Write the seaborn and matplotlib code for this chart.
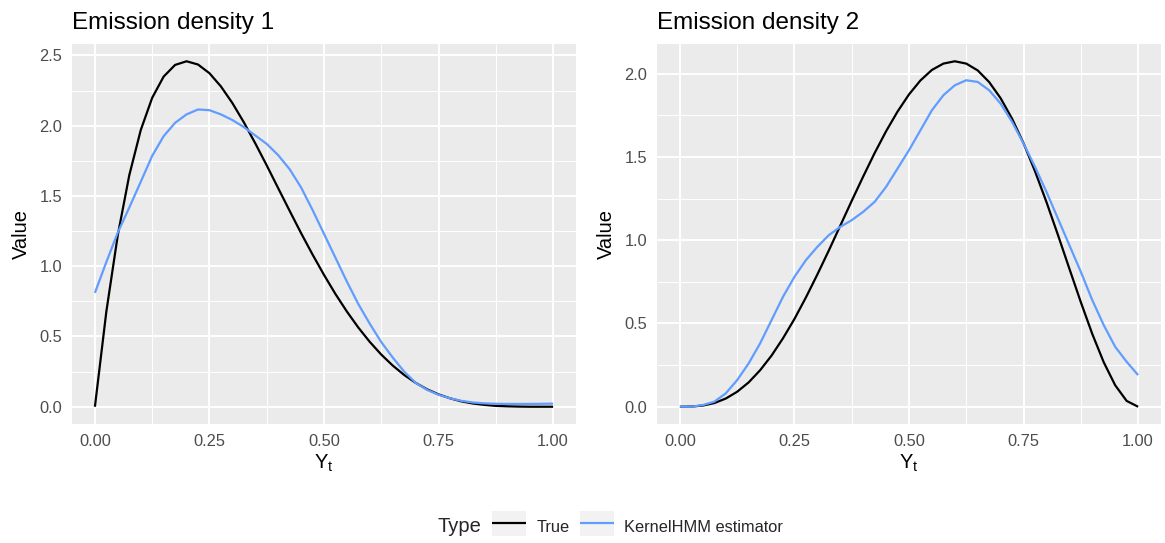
import matplotlib
matplotlib.use("Agg")
import matplotlib.pyplot as plt
import numpy as np
import pandas as pd
import seaborn as sns
from matplotlib.patches import Rectangle
from matplotlib.lines import Line2D
from matplotlib.legend_handler import HandlerLine2D

# ---------------- data ----------------
y_t = [0.000, 0.025, 0.050, 0.075, 0.100, 0.125, 0.150, 0.175, 0.200, 0.225,
       0.250, 0.275, 0.300, 0.325, 0.350, 0.375, 0.400, 0.425, 0.450, 0.475,
       0.500, 0.525, 0.550, 0.575, 0.600, 0.625, 0.650, 0.675, 0.700, 0.725,
       0.750, 0.775, 0.800, 0.825, 0.850, 0.875, 0.900, 0.925, 0.950, 0.975,
       1.000]

true_1 = [0.000, 0.678, 1.222, 1.647, 1.968, 2.198, 2.349, 2.432, 2.458, 2.435,
          2.373, 2.279, 2.161, 2.024, 1.874, 1.717, 1.555, 1.394, 1.235, 1.083,
          0.938, 0.802, 0.677, 0.563, 0.461, 0.371, 0.293, 0.226, 0.170, 0.124,
          0.088, 0.060, 0.038, 0.023, 0.013, 0.006, 0.003, 0.001, 0.000, 0.000,
          0.000]

est_1 = [0.810, 1.030, 1.240, 1.417, 1.600, 1.785, 1.925, 2.020, 2.080, 2.115,
         2.110, 2.080, 2.040, 1.990, 1.930, 1.870, 1.790, 1.690, 1.560, 1.400,
         1.230, 1.060, 0.890, 0.730, 0.590, 0.460, 0.350, 0.250, 0.170, 0.120,
         0.085, 0.060, 0.042, 0.030, 0.024, 0.021, 0.020, 0.020, 0.020, 0.021,
         0.022]

true_2 = [0.000, 0.001, 0.007, 0.022, 0.049, 0.090, 0.146, 0.219, 0.307, 0.411,
          0.527, 0.656, 0.794, 0.938, 1.087, 1.236, 1.382, 1.523, 1.654, 1.772,
          1.875, 1.959, 2.022, 2.060, 2.074, 2.060, 2.019, 1.949, 1.852, 1.729,
          1.582, 1.414, 1.229, 1.032, 0.829, 0.628, 0.437, 0.267, 0.129, 0.035,
          0.000]

est_2 = [0.000, 0.000, 0.010, 0.030, 0.080, 0.160, 0.260, 0.380, 0.520, 0.660,
         0.780, 0.880, 0.960, 1.030, 1.080, 1.120, 1.170, 1.230, 1.320, 1.430,
         1.540, 1.660, 1.780, 1.870, 1.930, 1.960, 1.950, 1.900, 1.820, 1.710,
         1.580, 1.440, 1.290, 1.130, 0.970, 0.810, 0.640, 0.490, 0.360, 0.270,
         0.190]

type_labels = ["True", "KernelHMM estimator"]
panel_titles = ["Emission density 1", "Emission density 2"]
x_ticks = [0.00, 0.25, 0.50, 0.75, 1.00]
x_tick_labels = ["0.00", "0.25", "0.50", "0.75", "1.00"]
y_ticks_1 = [0.0, 0.5, 1.0, 1.5, 2.0, 2.5]
y_ticks_2 = [0.0, 0.5, 1.0, 1.5, 2.0]

# ---------------- build long table ----------------
frames = []
for panel, (tv, ev) in enumerate([(true_1, est_1), (true_2, est_2)], start=1):
    frames.append(pd.DataFrame({"x": y_t, "Value": tv, "Type": type_labels[0], "panel": panel}))
    frames.append(pd.DataFrame({"x": y_t, "Value": ev, "Type": type_labels[1], "panel": panel}))
df = pd.concat(frames, ignore_index=True)

palette = {"True": "black", "KernelHMM estimator": "#619CFF"}

# ---------------- style ----------------
sns.set_style("darkgrid")
plt.rcParams["font.family"] = ["Liberation Sans", "DejaVu Sans"]
plt.rcParams["mathtext.fontset"] = "custom"
plt.rcParams["mathtext.rm"] = "Liberation Sans"
plt.rcParams["mathtext.it"] = "Liberation Sans"
plt.rcParams["lines.solid_capstyle"] = "butt"

fig = plt.figure(figsize=(11.65, 5.43), dpi=100)
ax1 = fig.add_axes([72 / 1165, 1 - 424 / 543, 504 / 1165, 380 / 543])
ax2 = fig.add_axes([657 / 1165, 1 - 424 / 543, 504 / 1165, 380 / 543])

for ax, panel, yt, title in [(ax1, 1, y_ticks_1, panel_titles[0]),
                             (ax2, 2, y_ticks_2, panel_titles[1])]:
    sub = df[df.panel == panel]
    sns.lineplot(data=sub, x="x", y="Value", hue="Type", hue_order=type_labels,
                 palette=palette, ax=ax, legend=False, linewidth=1.6,
                 estimator=None, sort=True)
    ax.set_facecolor("#EBEBEB")
    ax.margins(x=0.05, y=0.05)
    ax.set_xticks(x_ticks)
    ax.set_xticklabels(x_tick_labels)
    ax.set_yticks(yt)
    ax.set_yticklabels([f"{v:.1f}" for v in yt])
    minor_y = [v + 0.25 for v in yt[:-1]]
    ax.set_xticks([0.125, 0.375, 0.625, 0.875], minor=True)
    ax.set_yticks(minor_y, minor=True)
    ax.grid(which="major", color="white", linewidth=1.4)
    ax.grid(which="minor", color="white", linewidth=0.7)
    ax.set_axisbelow(True)
    for s in ax.spines.values():
        s.set_visible(False)
    ax.tick_params(axis="both", which="major", length=4.5, width=1.0,
                   color="#333333", labelcolor="#4D4D4D", labelsize=11.8, pad=2.5)
    ax.tick_params(axis="both", which="minor", length=0)
    ax.set_xlabel(r"$\mathregular{Y_t}$", fontsize=14.5, color="black", labelpad=3)
    ax.set_ylabel("Value", fontsize=14.5, color="black", labelpad=6)
    ax.set_title(title, loc="left", fontsize=17.5, color="black", pad=11)


# ---------------- legend ----------------
class KeyHandler(HandlerLine2D):
    """Legend key with a grey95 background box centred on the key line."""

    def create_artists(self, legend, orig_handle, xdescent, ydescent,
                       width, height, fontsize, trans):
        line_y = (height - ydescent) / 2.0
        rect = Rectangle((-xdescent, line_y - height / 2.0), width, height,
                         facecolor="#F2F2F2", edgecolor="none", transform=trans)
        arts = super().create_artists(legend, orig_handle, xdescent, ydescent,
                                      width, height, fontsize, trans)
        return [rect] + list(arts)


handles = [Line2D([], [], color=palette[t], linewidth=1.6) for t in type_labels]
leg = fig.legend(handles, type_labels, handler_map={Line2D: KeyHandler(xpad=0.0)},
                 ncol=2, loc="center left", bbox_to_anchor=(492 / 1165, 1 - 527 / 543),
                 frameon=False, fontsize=11.8, handlelength=2.1, handleheight=1.95,
                 handletextpad=0.6, columnspacing=0.65, borderaxespad=0, borderpad=0)
fig.text(437 / 1165, 1 - 527 / 543, "Type", fontsize=14.5, ha="left", va="center")

fig.savefig("out.png", dpi=100, facecolor="white")
